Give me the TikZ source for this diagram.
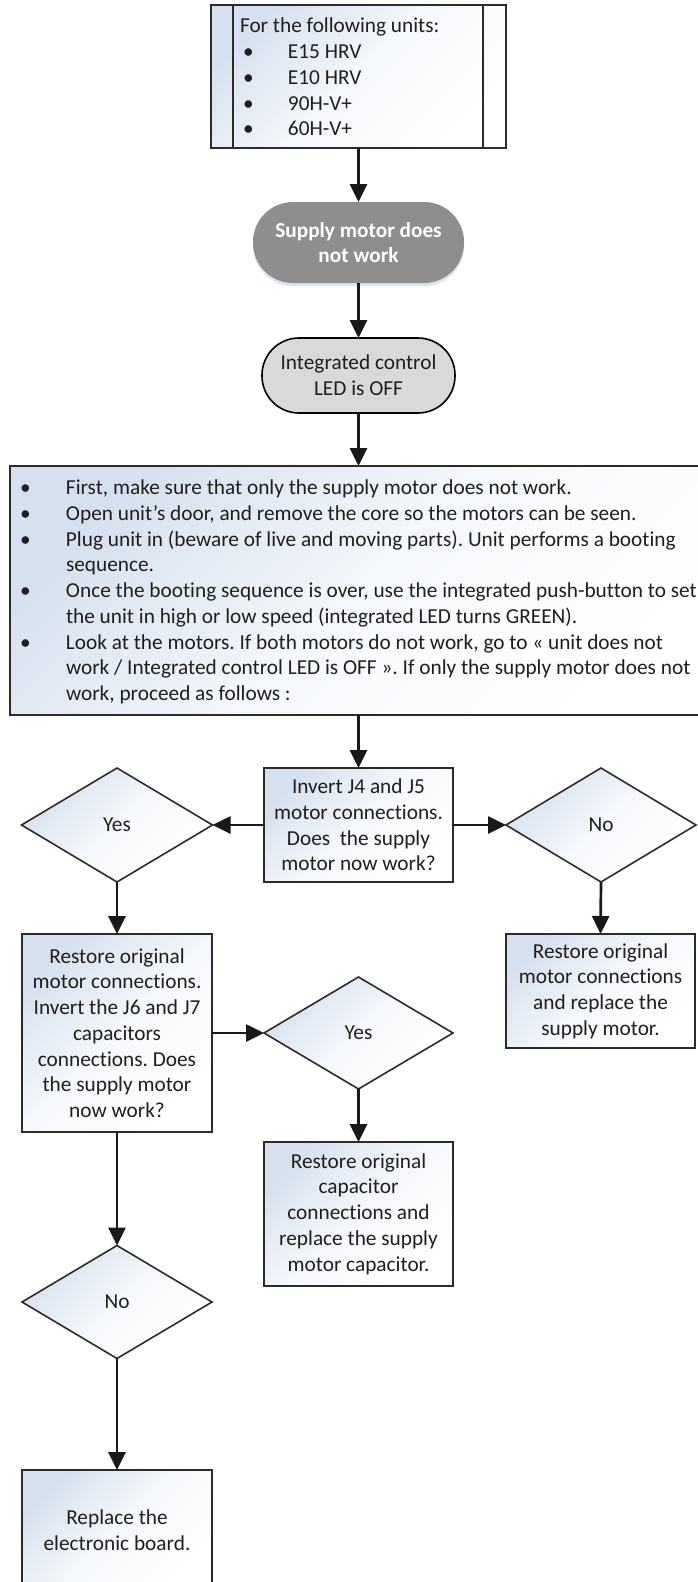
\documentclass[tikz,border=0pt]{standalone}
\usepackage{fontspec}
\setmainfont{Carlito}[Ligatures=NoCommon]
\usetikzlibrary{arrows.meta,shapes.geometric,shadows}
\definecolor{boxblue}{HTML}{D6E1EF}
\definecolor{bordergray}{HTML}{2B2B2B}
\definecolor{termdark}{HTML}{8E8E8E}
\definecolor{termlight}{HTML}{D9D9D9}
\frenchspacing
\begin{document}
\begin{tikzpicture}[x=1pt,y=-1pt,
  every node/.style={inner sep=0pt, outer sep=0pt},
  txt/.style={font=\fontsize{21.3}{25.7}\selectfont, text=black!88},
  flowbox/.style={draw=bordergray, line width=1.8pt, top color=boxblue, bottom color=white, middle color=boxblue!25, shading angle=45, txt, align=center},
  decision/.style={diamond, draw=bordergray, line width=1.6pt, top color=boxblue, bottom color=white, middle color=boxblue!25, shading angle=45, txt, align=center},
  conn/.style={draw=black!90, line width=2.7pt, -{Triangle[length=18pt,width=17pt]}}
]
\useasboundingbox (0,0) rectangle (697,1582);

% top box
\node[draw=bordergray, line width=2pt, top color=boxblue, bottom color=white, middle color=boxblue!25, shading angle=45, minimum width=295pt, minimum height=143pt] (units) at (358.5,76.5) {};
\draw[line width=2pt, bordergray] ([xshift=22pt]units.north west) -- ([xshift=22pt]units.south west);
\draw[line width=2pt, bordergray] ([xshift=-23pt]units.north east) -- ([xshift=-23pt]units.south east);
\node[txt, align=left, anchor=west] (unitstext) at (240,77) {For the following units:\\
\hspace*{3pt}\makebox[45pt][l]{•}E15 HRV\\
\hspace*{3pt}\makebox[45pt][l]{•}E10 HRV\\
\hspace*{3pt}\makebox[45pt][l]{•}90H-V+\\
\hspace*{3pt}\makebox[45pt][l]{•}60H-V+};

% terminators
\node[font=\fontsize{21.3}{25.7}\selectfont\bfseries, text=white, fill=termdark, rounded corners=40pt, minimum width=211pt, minimum height=81pt, align=center, drop shadow={shadow xshift=0pt, shadow yshift=-3pt, fill=boxblue, opacity=0.9}] (sym) at (358.5,242.5) {Supply motor does\\not work};
\node[txt, draw=black, line width=1.6pt, fill=termlight, rounded corners=37pt, minimum width=193pt, minimum height=75pt, align=center] (led) at (358.5,375.5) {Integrated control\\LED is OFF};

% big instructions box
\node[flowbox, minimum width=710pt, minimum height=249pt, anchor=north west] (steps) at (10,466) {};
\node[txt, align=left, anchor=west] (stepstext) at (20,592) {%
\makebox[46pt][l]{•}First, make sure that only the supply motor does not work.\\
\makebox[46pt][l]{•}Open unit’s door, and remove the core so the motors can be seen.\\
\makebox[46pt][l]{•}Plug unit in (beware of live and moving parts). Unit performs a booting\\
\hspace*{46pt}sequence.\\
\makebox[46pt][l]{•}Once the booting sequence is over, use the integrated push-button to set\\
\hspace*{46pt}the unit in high or low speed (integrated LED turns GREEN).\\
\makebox[46pt][l]{•}Look at the motors. If both motors do not work, go to « unit does not\\
\hspace*{46pt}work / Integrated control LED is OFF ». If only the supply motor does not\\
\hspace*{46pt}work, proceed as follows :};

% flow
\node[flowbox, minimum width=189pt, minimum height=114pt] (invert) at (358.5,825) {Invert J4 and J5\\motor connections.\\Does~ the supply\\motor now work?};
\node[decision, minimum width=191pt, minimum height=114pt] (yesA) at (117,825) {Yes};
\node[decision, minimum width=190pt, minimum height=114pt] (noA) at (601,825) {No};
\node[flowbox, minimum width=190pt, minimum height=198pt] (restoreA) at (117,1033) {Restore original\\motor connections.\\Invert the J6 and J7\\capacitors\\connections. Does\\the supply motor\\now work?};
\node[flowbox, minimum width=189pt, minimum height=114pt] (restoreB) at (600.5,991) {Restore original\\motor connections\\and replace the\\supply motor.};
\node[decision, minimum width=189pt, minimum height=112pt] (yesB) at (358.5,1033) {Yes};
\node[flowbox, minimum width=189pt, minimum height=144pt] (cap) at (358.5,1214) {Restore original\\capacitor\\connections and\\replace the supply\\motor capacitor.};
\node[decision, minimum width=190pt, minimum height=113pt] (noB) at (117,1302) {No};
\node[flowbox, minimum width=190pt, minimum height=120pt] (board) at (117,1530) {Replace the\\electronic board.};

% connectors
\draw[conn] (units.south) -- (sym.north);
\draw[conn] (sym.south) -- (led.north);
\draw[conn] (led.south) -- (led.south |- steps.north);
\draw[conn] (invert.north |- steps.south) -- (invert.north);
\draw[conn] (invert.west) -- (yesA.east);
\draw[conn] (invert.east) -- (noA.west);
\draw[conn] (yesA.south) -- (restoreA.north);
\draw[conn] (noA.south) -- (restoreB.north);
\draw[conn] (restoreA.east) -- (yesB.west);
\draw[conn] (yesB.south) -- (cap.north);
\draw[conn] (restoreA.south) -- (noB.north);
\draw[conn] (noB.south) -- (board.north);
\end{tikzpicture}
\end{document}
